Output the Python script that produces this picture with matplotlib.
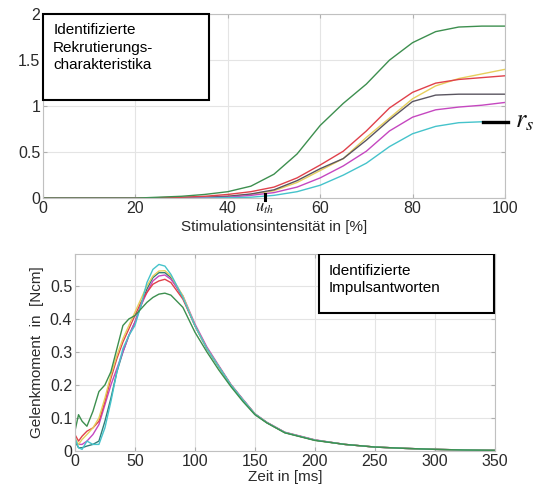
import numpy as np
import matplotlib.pyplot as plt
from matplotlib.patches import Rectangle

plt.rcParams['font.family'] = ['Liberation Sans', 'DejaVu Sans']
plt.rcParams['mathtext.fontset'] = 'stix'

# --- Rekrutierungscharakteristika (oben) ---
stim = [0, 10, 20, 30, 35, 40, 45, 50, 55, 60, 65, 70, 75, 80, 85, 90, 95, 100]
rec_green = [0, 0, 0, 0.02, 0.04, 0.07, 0.13, 0.26, 0.48, 0.79, 1.03, 1.24, 1.50, 1.69, 1.81, 1.86, 1.87, 1.87]
rec_red = [0, 0, 0, 0.01, 0.02, 0.04, 0.07, 0.12, 0.22, 0.36, 0.51, 0.73, 0.98, 1.15, 1.25, 1.29, 1.31, 1.33]
rec_yellow = [0, 0, 0, 0.005, 0.01, 0.02, 0.04, 0.08, 0.17, 0.30, 0.43, 0.66, 0.87, 1.08, 1.22, 1.30, 1.35, 1.40]
rec_black = [0, 0, 0, 0.005, 0.01, 0.02, 0.045, 0.09, 0.19, 0.32, 0.43, 0.63, 0.85, 1.05, 1.12, 1.13, 1.13, 1.13]
rec_magenta = [0, 0, 0, 0, 0.005, 0.01, 0.03, 0.06, 0.12, 0.22, 0.35, 0.51, 0.73, 0.88, 0.96, 0.99, 1.01, 1.04]
rec_cyan = [0, 0, 0, 0, 0, 0.005, 0.01, 0.03, 0.07, 0.14, 0.25, 0.38, 0.56, 0.70, 0.78, 0.82, 0.83, 0.83]

# --- Impulsantworten (unten) ---
t = [0, 3, 6, 10, 15, 20, 25, 30, 35, 40, 45, 50, 55, 60, 65, 70, 75, 80, 90, 100,
     110, 120, 130, 140, 150, 160, 175, 200, 225, 250, 275, 300, 325, 350]
imp_green = [0.06, 0.11, 0.09, 0.075, 0.12, 0.18, 0.20, 0.24, 0.31, 0.38, 0.40, 0.41, 0.43, 0.45, 0.465, 0.475, 0.478, 0.472, 0.435, 0.36,
             0.30, 0.245, 0.195, 0.15, 0.11, 0.085, 0.055, 0.032, 0.02, 0.012, 0.008, 0.005, 0.003, 0.002]
imp_red = [0.05, 0.03, 0.045, 0.06, 0.07, 0.09, 0.15, 0.22, 0.28, 0.33, 0.37, 0.41, 0.45, 0.48, 0.505, 0.515, 0.52, 0.51, 0.46, 0.38,
           0.31, 0.255, 0.20, 0.155, 0.112, 0.086, 0.056, 0.033, 0.02, 0.012, 0.008, 0.005, 0.003, 0.002]
imp_yellow = [0.04, 0.02, 0.035, 0.05, 0.07, 0.10, 0.16, 0.23, 0.29, 0.34, 0.38, 0.42, 0.46, 0.50, 0.53, 0.545, 0.546, 0.53, 0.47, 0.38,
              0.31, 0.255, 0.20, 0.155, 0.112, 0.086, 0.056, 0.033, 0.02, 0.012, 0.008, 0.005, 0.003, 0.002]
imp_black = [0.03, 0.01, 0.01, 0.015, 0.02, 0.03, 0.09, 0.16, 0.24, 0.30, 0.35, 0.39, 0.44, 0.49, 0.525, 0.54, 0.54, 0.525, 0.465, 0.38,
             0.31, 0.255, 0.20, 0.155, 0.112, 0.086, 0.056, 0.033, 0.02, 0.012, 0.008, 0.005, 0.003, 0.002]
imp_magenta = [0.03, 0.02, 0.02, 0.03, 0.05, 0.08, 0.14, 0.20, 0.25, 0.30, 0.35, 0.39, 0.44, 0.48, 0.515, 0.53, 0.533, 0.52, 0.47, 0.385,
               0.315, 0.258, 0.202, 0.157, 0.113, 0.087, 0.057, 0.034, 0.02, 0.012, 0.008, 0.005, 0.003, 0.002]
imp_cyan = [0.04, 0.01, 0.005, 0.03, 0.02, 0.02, 0.07, 0.15, 0.24, 0.31, 0.35, 0.38, 0.44, 0.51, 0.55, 0.565, 0.56, 0.535, 0.465, 0.38,
            0.31, 0.255, 0.20, 0.155, 0.112, 0.086, 0.056, 0.033, 0.02, 0.012, 0.008, 0.005, 0.003, 0.002]

colors = ['#3d8f4f', '#e0414b', '#e6cf5c', '#5a5560', '#c547c0', '#45c3cb']
rec_series = [rec_yellow, rec_black, rec_magenta, rec_cyan, rec_red, rec_green]
rec_colors = [colors[2], colors[3], colors[4], colors[5], colors[1], colors[0]]
imp_series = [imp_black, imp_magenta, imp_red, imp_yellow, imp_cyan, imp_green]
imp_colors = ['#2f7f78', colors[4], colors[1], colors[2], colors[5], colors[0]]

txt = '#2a2a2a'
fig = plt.figure(figsize=(5.39, 4.88), dpi=100)
ax1 = fig.add_axes([0.0798, 0.594, 0.857, 0.377])
ax2 = fig.add_axes([0.139, 0.0758, 0.779, 0.404])

for ax in (ax1, ax2):
    ax.grid(True, color='#e4e4e4', linewidth=0.8)
    ax.set_axisbelow(True)
    for s in ax.spines.values():
        s.set_color('#c0c0c0')
        s.set_linewidth(0.8)
    ax.tick_params(direction='in', top=True, right=True, length=3, color='#b0b0b0',
                   labelsize=11.5, labelcolor=txt, pad=2)

#---oben--------------------------------------------------------------
for y, c in zip(rec_series, rec_colors):
    ax1.plot(stim, y, color=c, linewidth=1.0)
ax1.set_xlim(0, 100)
ax1.set_ylim(0, 2)
ax1.set_xticks([0, 20, 40, 60, 80, 100])
ax1.set_yticks([0, 0.5, 1, 1.5, 2])
ax1.set_yticklabels(['0', '0.5', '1', '1.5', '2'])
ax1.set_xlabel('Stimulationsintensität in [%]', fontsize=11, color=txt, labelpad=3)

ax1.add_patch(Rectangle((0, 0.533), 0.359, 0.467, transform=ax1.transAxes,
                        facecolor='white', edgecolor='black', linewidth=1.5, zorder=5, clip_on=False))
ax1.text(0.022, 0.95, 'Identifizierte\nRekrutierungs-\ncharakteristika', transform=ax1.transAxes,
         fontsize=11, va='top', ha='left', linespacing=1.3, color='black', zorder=6)

ax1.plot([48.1, 48.1], [-0.02, 0.05], color='black', linewidth=2.2, clip_on=False, zorder=6)
ax1.text(45.8, -0.03, '$u_{th}$', fontsize=12, va='top', ha='left', color='#222222')
ax1.plot([95.2, 100.6], [0.826, 0.826], color='black', linewidth=2.4, clip_on=False, zorder=6)
ax1.text(102.2, 0.84, '$r_s$', fontsize=19, va='center', ha='left', color='#111111')

#---unten-------------------------------------------------------------
for y, c in zip(imp_series, imp_colors):
    ax2.plot(t, y, color=c, linewidth=1.0)
ax2.set_xlim(0, 350)
ax2.set_ylim(0, 0.597)
ax2.set_xticks([0, 50, 100, 150, 200, 250, 300, 350])
ax2.set_yticks([0, 0.1, 0.2, 0.3, 0.4, 0.5])
ax2.set_yticklabels(['0', '0.1', '0.2', '0.3', '0.4', '0.5'])
ax2.set_xlabel('Zeit in [ms]', fontsize=11, color=txt, labelpad=1)
ax2.set_ylabel('Gelenkmoment  in  [Ncm]', fontsize=11, color=txt, labelpad=4)

ax2.add_patch(Rectangle((0.581, 0.70), 0.417, 0.30, transform=ax2.transAxes,
                        facecolor='white', edgecolor='black', linewidth=1.5, zorder=5))
ax2.text(0.605, 0.95, 'Identifizierte\nImpulsantworten', transform=ax2.transAxes,
         fontsize=11, va='top', ha='left', linespacing=1.3, color='black', zorder=6)

plt.savefig('out.png', dpi=100)
